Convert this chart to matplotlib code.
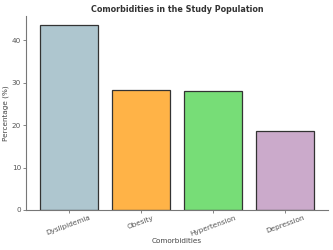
import matplotlib
matplotlib.use("Agg")
import matplotlib.pyplot as plt

categories = ['Dyslipidemia', 'Obesity', 'Hypertension', 'Depression']
percentages = [43.5, 28.3, 27.9, 18.7]
colors = ['#AEC6CF', '#FFB347', '#77DD77', '#CBAACB']

plt.rcParams['font.family'] = 'DejaVu Sans'

fig = plt.figure(figsize=(3.33, 2.5), dpi=100)
ax = fig.add_axes([0.078, 0.16, 0.907, 0.776])

ax.bar(categories, percentages, color=colors, edgecolor='#333333', linewidth=0.9)

ax.set_title('Comorbidities in the Study Population', fontsize=5.8, fontweight='bold', color='#333333', pad=3)
ax.set_xlabel('Comorbidities', fontsize=5.2, color='#444444', labelpad=1)
ax.set_ylabel('Percentage (%)', fontsize=5.2, color='#444444', labelpad=2)

ax.tick_params(axis='both', labelsize=5.2, colors='#555555', length=2, width=0.5, pad=1.5)
plt.setp(ax.get_xticklabels(), rotation=20)

for side in ['top', 'right']:
    ax.spines[side].set_visible(False)
for side in ['left', 'bottom']:
    ax.spines[side].set_color('#777777')
    ax.spines[side].set_linewidth(0.8)

fig.savefig('out.png', dpi=100)
